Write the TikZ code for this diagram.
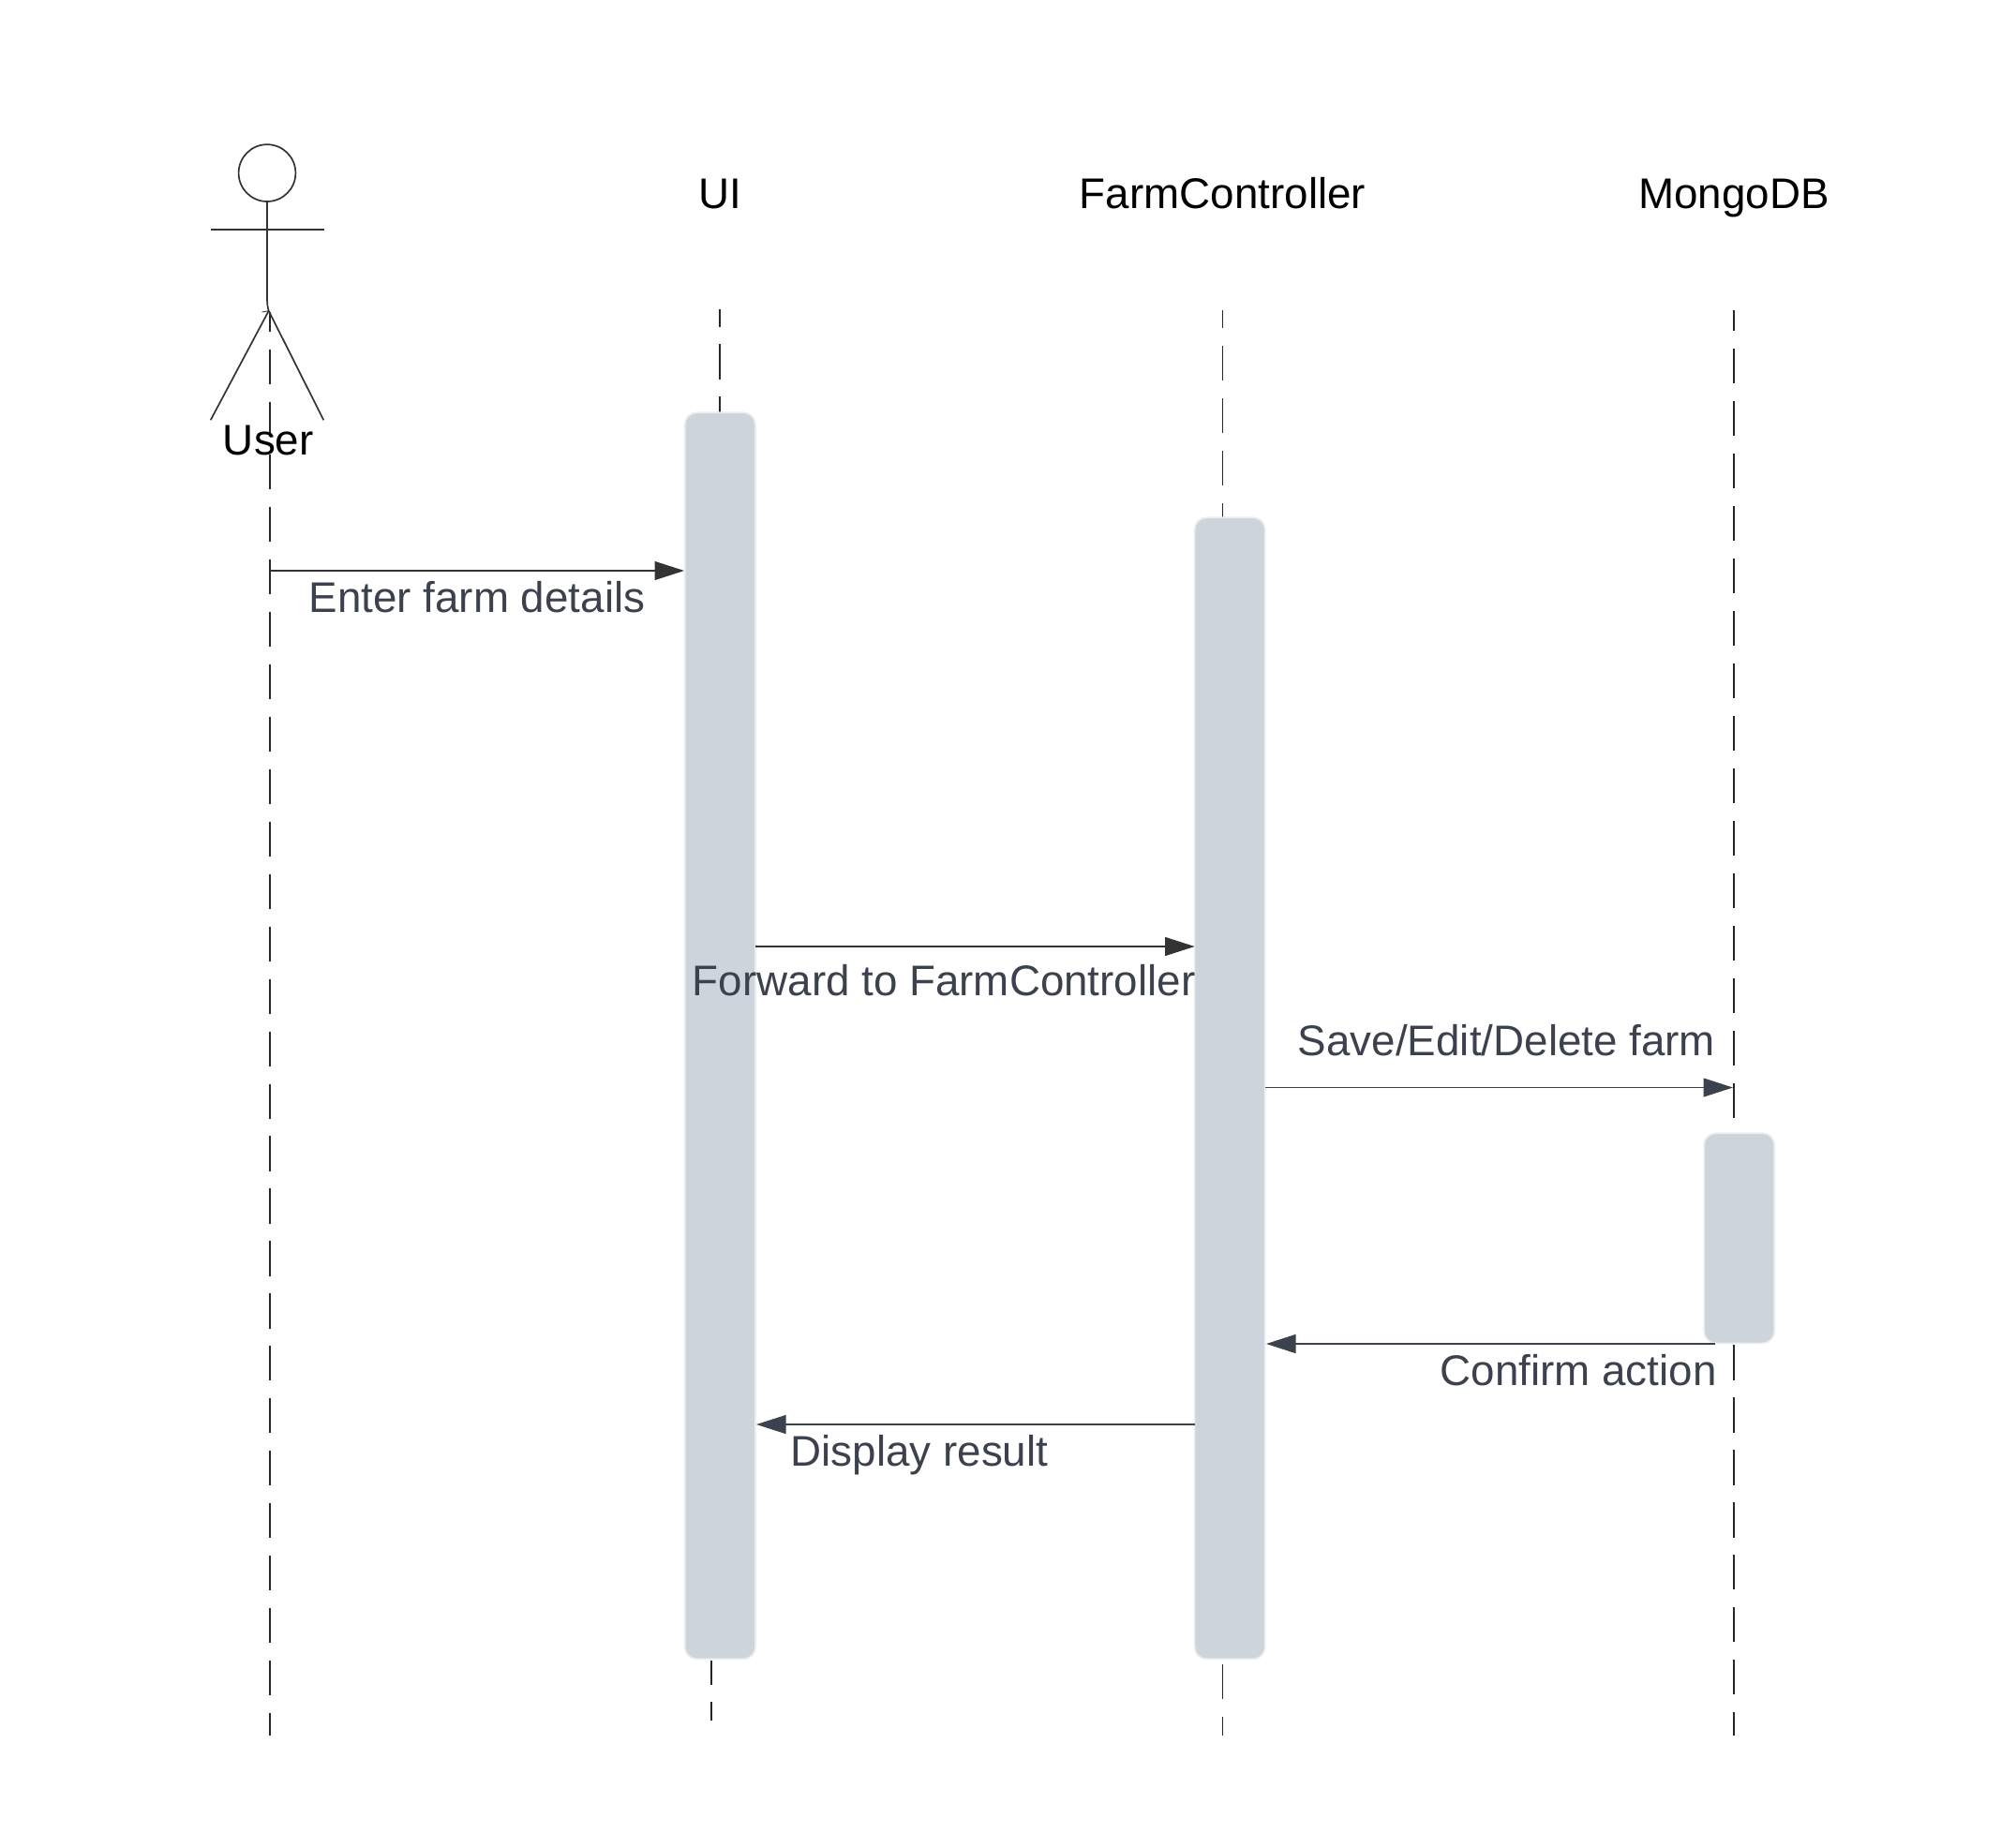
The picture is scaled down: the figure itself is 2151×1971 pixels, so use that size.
\documentclass[tikz,border=0pt]{standalone}
\usepackage{fontspec}
\setmainfont{Liberation Sans}
\usetikzlibrary{arrows.meta}
\definecolor{boxgray}{HTML}{CDD4DC}
\definecolor{boxedge}{HTML}{EBEDF0}
\definecolor{msgdark}{HTML}{333333}
\definecolor{msgslate}{HTML}{3B424D}
\tikzset{
  lifeline/.style={draw=black!85, line width=.7pt, dash pattern=on 13.2pt off 6.7pt},
  activation/.style={rectangle, rounded corners=4.5pt, fill=boxgray, draw=boxedge, line width=.6pt, minimum width=.94cm, inner sep=0, outer sep=0},
  msg/.style={line width=.5pt, -{Triangle[length=11.2pt,width=7.1pt]}},
  head/.style={font=\fontsize{16.27}{20}\selectfont, anchor=base, inner sep=0},
  msgtext/.style={font=\fontsize{16.27}{20}\selectfont, text=msgslate, anchor=base, inner sep=0},
  actorline/.style={draw=black!80, line width=.6pt}
}
\begin{document}
\begin{tikzpicture}[x=.0125cm, y=-.0125cm]
\useasboundingbox (0,0) rectangle (2151,1971);
% lifelines
\coordinate (utop) at (288,333);
\coordinate (ubot) at (288,1852);
\coordinate (itop) at (767.7,330);
\coordinate (ibot) at (759,1772);
\coordinate (iend) at (759,1836);
\coordinate (ftop) at (1304.5,331);
\coordinate (fbot) at (1304.5,1776);
\coordinate (fend) at (1304.5,1852);
\coordinate (mtop) at (1850,331);
\coordinate (mbot) at (1850,1852);
\draw[lifeline, dash phase=5.7pt] (utop) -- (ubot);
\draw[lifeline, dash phase=6.6pt] (itop) -- (767.7,441);
\draw[lifeline, dash phase=4.1pt] (ibot) -- (iend);
\draw[lifeline, line width=.4pt, dash phase=6.3pt] (ftop) -- (1304.5,552);
\draw[lifeline, line width=.4pt] (fbot) -- (fend);
\draw[lifeline, dash phase=5.3pt] (mtop) -- (mbot);

% actor
\node[circle, actorline, minimum size=.76cm, inner sep=0, outer sep=0] (uhead) at (285,184.6){};
\coordinate (uwaist) at (285,317);
\coordinate (uhip) at (286.7,331.7);
\coordinate (uarml) at (225,245);
\coordinate (uarmr) at (345.5,245);
\coordinate (ulegl) at (224.7,448.3);
\coordinate (ulegr) at (345.3,448.3);
\coordinate (utick) at (279.5,333);
\draw[actorline] (uhead.south) -- (uwaist) .. controls (285,324) and (285.5,328) .. (uhip);
\draw[actorline] (uarml) -- (uarmr);
\draw[actorline] (uhip) -- (ulegl);
\draw[actorline] (uhip) -- (ulegr);
\draw[actorline, line width=.3pt] (utick) -- (uhip);
\node[head] (user) at (286.3,485){User};

% participants
\node[head] (ui) at (768.5,222){UI};
\node[head] (farm) at (1304.5,222){FarmController};
\node[head] (mongo) at (1850,222){MongoDB};

% activations
\node[activation, minimum height=16.62cm] (uibox) at (768.3,1105.3){};
\node[activation, minimum height=15.22cm] (farmbox) at (1312.2,1161.3){};
\node[activation, minimum height=2.8cm] (mongobox) at (1855.7,1321.3){};

% messages
\coordinate (m1a) at (288,609);
\coordinate (m1b) at (730,609);
\coordinate (m2a) at (806,1010);
\coordinate (m2b) at (1274.6,1010);
\coordinate (m3a) at (1350,1160.5);
\coordinate (m3b) at (1849,1160.5);
\coordinate (m4a) at (1830,1434);
\coordinate (m4b) at (1351,1434);
\coordinate (m5a) at (1275,1520);
\coordinate (m5b) at (807,1520);
\draw[msg, msgdark] (m1a) -- (m1b);
\draw[msg, msgdark, line width=.4pt] (m2a) -- (m2b);
\draw[msg, msgslate, line width=.4pt] (m3a) -- (m3b);
\draw[msg, msgslate, line width=.55pt] (m4a) -- (m4b);
\draw[msg, msgslate, line width=.4pt] (m5a) -- (m5b);
\node[msgtext] (m1t) at (509,653){Enter farm details};
\node[msgtext] (m2t) at (1007.2,1062){Forward to FarmController};
\node[msgtext] (m3t) at (1607.5,1126){Save/Edit/Delete farm};
\node[msgtext] (m4t) at (1684,1478){Confirm action};
\node[msgtext] (m5t) at (981,1564.3){Display result};

\end{tikzpicture}
\end{document}
